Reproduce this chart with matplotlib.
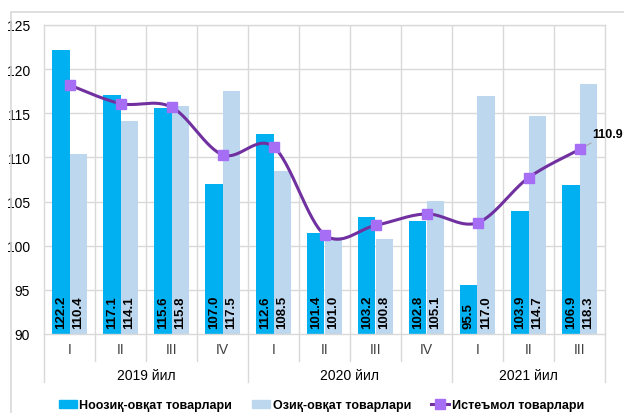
import numpy as np
import matplotlib
matplotlib.use("Agg")
import matplotlib.pyplot as plt
import matplotlib.transforms as mtransforms
from matplotlib.patches import Rectangle
from matplotlib.lines import Line2D

plt.rcParams['font.family'] = ['Liberation Sans', 'DejaVu Sans']

quarters = ["I", "II", "III", "IV", "I", "II", "III", "IV", "I", "II", "III"]
years = ["2019 йил", "2020 йил", "2021 йил"]
year_sizes = [4, 4, 3]
nonfood = [122.2, 117.1, 115.6, 107.0, 112.6, 101.4, 103.2, 102.8, 95.5, 103.9, 106.9]
food = [110.4, 114.1, 115.8, 117.5, 108.5, 101.0, 100.8, 105.1, 117.0, 114.7, 118.3]
consumer = [118.2, 116.1, 115.7, 110.3, 111.2, 101.25, 102.3, 103.6, 102.6, 107.7, 110.9]

names = ["Ноозиқ-овқат товарлари", "Озиқ-овқат товарлари", "Истеъмол товарлари"]

c_dark = "#00B0F0"
c_light = "#BDD7EE"
c_line = "#7030A0"
c_marker = "#A66EF5"
c_grid = "#D9D9D9"

fig = plt.figure(figsize=(6.24, 4.14), dpi=100)
W, H = 624, 414
ax = fig.add_axes([44 / W, 1 - 335 / H, (605 - 44) / W, (335 - 26) / H])

# outer border
fig.patches.append(Rectangle((11 / W, -0.1), 1.2, (H - 13) / H + 0.1, transform=fig.transFigure,
                             fill=False, edgecolor=c_grid, linewidth=1.2))

x = np.arange(len(quarters))
bw = 0.345
ymin = 90
ax.bar(x - bw / 2, np.array(nonfood) - ymin, bw, bottom=ymin, color=c_dark, zorder=2, label=names[0])
ax.bar(x + bw / 2, np.array(food) - ymin, bw, bottom=ymin, color=c_light, zorder=2, label=names[1])

for xi, v in zip(x, nonfood):
    ax.text(xi - bw / 2, 90.7, f"{v:.1f}", rotation=90, ha='center', va='bottom',
            fontsize=9.5, fontweight='bold', color='black', zorder=4)
for xi, v in zip(x, food):
    ax.text(xi + bw / 2, 90.7, f"{v:.1f}", rotation=90, ha='center', va='bottom',
            fontsize=9.5, fontweight='bold', color='black', zorder=4)

# smooth line (Catmull-Rom style, like Excel smoothed line)
def smooth(xs, ys, n=30):
    xs = np.asarray(xs, float); ys = np.asarray(ys, float)
    P = np.column_stack([xs, ys])
    P = np.vstack([P[0], P, P[-1]])
    out = []
    for i in range(1, len(P) - 2):
        p0, p1, p2, p3 = P[i - 1], P[i], P[i + 1], P[i + 2]
        c1 = p1 + (p2 - p0) / 6
        c2 = p2 - (p3 - p1) / 6
        t = np.linspace(0, 1, n)[:, None]
        seg = ((1 - t) ** 3) * p1 + 3 * ((1 - t) ** 2) * t * c1 + 3 * (1 - t) * t ** 2 * c2 + t ** 3 * p2
        out.append(seg if i == 1 else seg[1:])
    S = np.vstack(out)
    return S[:, 0], S[:, 1]

sx, sy = smooth(x, consumer)
ax.plot(sx, sy, color=c_line, linewidth=2.2, zorder=3)
ax.plot(x, consumer, linestyle='none', marker='s', markersize=7, color=c_marker, zorder=5)

ax.annotate(f"{consumer[-1]:.1f}", xy=(x[-1], consumer[-1]), xytext=(9.5, 11.5), textcoords='offset points',
            fontsize=9, fontweight='bold', ha='left', va='center',
            arrowprops=dict(arrowstyle='-', color='#A6A6A6', lw=0.8, shrinkA=1, shrinkB=3))

ax.set_xlim(-0.5, len(x) - 0.5)
ax.set_ylim(90, 125)
ax.set_yticks(np.arange(90, 126, 5))
ax.set_yticklabels([str(v) for v in range(90, 126, 5)], fontsize=10)
ax.tick_params(axis='y', length=0, pad=10)
ax.set_xticks([])
ax.grid(False)
for yv in np.arange(95, 126, 5):
    ax.axhline(yv, color=c_grid, lw=1, zorder=1)
for b in np.arange(0.5, len(x) - 0.5, 1):
    ax.axvline(b, color=c_grid, lw=1, zorder=1)
for s in ax.spines.values():
    s.set_color(c_grid)
    s.set_linewidth(1)

trans = mtransforms.blended_transform_factory(ax.transData, ax.transAxes)
axh = 335 - 26
for xi, q in zip(x, quarters):
    ax.text(xi, -15 / axh, q, transform=trans, ha='center', va='center', fontsize=10, color='#404040')
bounds = np.arange(-0.5, len(x), 1)
year_bounds = np.cumsum([0] + year_sizes) - 0.5
for b in bounds:
    depth = 48 if b in year_bounds else 27
    ax.plot([b, b], [0, -depth / axh], transform=trans, color=c_grid, lw=1, clip_on=False)
start = 0
for yl, n in zip(years, year_sizes):
    ax.text(start + (n - 1) / 2, -41 / axh, yl, transform=trans, ha='center', va='center',
            fontsize=10, color='black')
    start += n

handles = [Rectangle((0, 0), 1, 1, color=c_dark), Rectangle((0, 0), 1, 1, color=c_light),
           Line2D([], [], color=c_line, lw=2.2, marker='s', markersize=7, markerfacecolor=c_marker,
                  markeredgecolor=c_marker)]
leg = fig.legend(handles, names, loc='center', bbox_to_anchor=(0.515, 1 - 406 / H), ncol=3,
                 frameon=False, prop={'weight': 'bold', 'size': 9}, handlelength=1.45,
                 handleheight=0.6, columnspacing=1.6, handletextpad=0.2)

fig.savefig("out.png", dpi=100)
